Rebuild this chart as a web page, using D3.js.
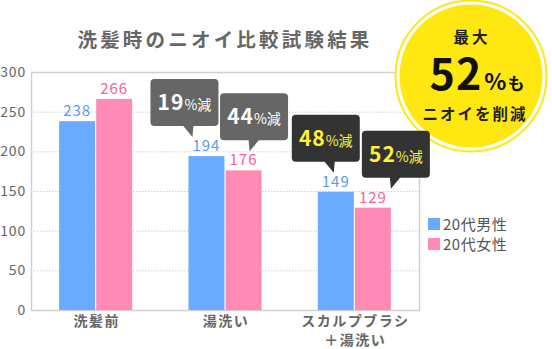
<!DOCTYPE html>
<html><head><meta charset="utf-8">
<script src="https://cdn.jsdelivr.net/npm/d3@7"></script>
<style>
html,body{margin:0;padding:0;background:#fff;}
svg{display:block;font-family:"Noto Sans CJK JP","Noto Sans",sans-serif;}
</style></head>
<body><svg id="c" width="552" height="349"></svg>
<script>
const categories = ["洗髪前", "湯洗い", "スカルプブラシ\n＋湯洗い"];
const seriesNames = ["20代男性", "20代女性"];
const maleValues = [238, 194, 149];
const femaleValues = [266, 176, 129];
const yTicks = [0, 50, 100, 150, 200, 250, 300];
const reductions = [
  {cat: 1, series: 0, num: "19", dark: false},
  {cat: 1, series: 1, num: "44", dark: false},
  {cat: 2, series: 0, num: "48", dark: true},
  {cat: 2, series: 1, num: "52", dark: true}
];
const title = "洗髪時のニオイ比較試験結果";
const colors = ["#6aabff", "#ff8ab5"];
const labelColors = ["#5a9be8", "#f0649a"];

const svg = d3.select("#c");
const L = 31, R = 419, T = 72, B = 310;
const y = d3.scaleLinear().domain([0, 300]).range([B, T]);
const x0 = d3.scaleBand().domain(d3.range(categories.length)).range([L, R]).paddingInner(0.435).paddingOuter(0.2175);
const x1 = d3.scaleBand().domain([0, 1]).range([0, x0.bandwidth()]).paddingInner(0.03);

// title
svg.append("text").attr("x", 225).attr("y", 47).attr("text-anchor", "middle")
  .attr("font-size", 19.5).attr("font-weight", 700).attr("fill", "#666")
  .attr("letter-spacing", "3.2px").text(title);

// gridlines
svg.append("g").selectAll("line").data(yTicks.filter(d => d > 0 && d < 300)).join("line")
  .attr("x1", L).attr("x2", R).attr("y1", d => y(d) + 0.5).attr("y2", d => y(d) + 0.5)
  .attr("stroke", "#cfcfcf").attr("stroke-dasharray", "1.5,1.5");

// frame
svg.append("rect").attr("x", L + 0.5).attr("y", T + 0.5).attr("width", R - L).attr("height", B - T)
  .attr("fill", "none").attr("stroke", "#d0d0d0").attr("stroke-width", 1.5);

// y axis labels
const yAxis = d3.axisLeft(y).tickValues(yTicks).tickSize(0).tickPadding(5);
const ya = svg.append("g").attr("transform", `translate(${L},0)`).call(yAxis);
ya.select(".domain").remove();
ya.selectAll("text").attr("font-size", 14).attr("fill", "#666")
  .attr("font-family", "'Noto Sans CJK JP',sans-serif").attr("letter-spacing", "0.8px");

// bars
const data = [maleValues, femaleValues];
const gBars = svg.append("g");
data.forEach((vals, s) => {
  gBars.selectAll(".b" + s).data(vals).join("rect")
    .attr("x", (d, i) => x0(i) + x1(s)).attr("width", x1.bandwidth())
    .attr("y", d => y(d)).attr("height", d => B - y(d)).attr("fill", colors[s]);
  gBars.selectAll(".t" + s).data(vals).join("text")
    .attr("x", (d, i) => x0(i) + x1(s) + x1.bandwidth() / 2).attr("y", d => y(d) - 5)
    .attr("text-anchor", "middle").attr("font-size", 15).attr("fill", labelColors[s])
    .attr("letter-spacing", "1px").text(d => d);
});

// category labels
categories.forEach((c, i) => {
  const lines = c.split("\n");
  lines.forEach((ln, k) => {
    svg.append("text").attr("text-anchor", "middle").attr("font-size", 14)
      .attr("font-weight", 700).attr("fill", "#666").attr("letter-spacing", "1.5px")
      .attr("x", x0(i) + x0.bandwidth() / 2 + 1).attr("y", 326 + k * 19).text(ln);
  });
});

// legend
seriesNames.forEach((n, s) => {
  svg.append("rect").attr("x", 428).attr("y", 218 + s * 20).attr("width", 12).attr("height", 12).attr("fill", colors[s]);
  svg.append("text").attr("x", 443).attr("y", 229.5 + s * 20).attr("font-size", 15)
    .attr("fill", "#555").attr("letter-spacing", "0.5px").text(n);
});

// badge circle
const cx = 471, cy = 76;
svg.append("circle").attr("cx", cx).attr("cy", cy).attr("r", 75.5).attr("fill", "#fff")
  .attr("stroke", "#ffe712").attr("stroke-width", 2);
svg.append("circle").attr("cx", cx).attr("cy", cy).attr("r", 71.5).attr("fill", "#ffe712");
svg.append("text").attr("x", cx + 1).attr("y", 43).attr("text-anchor", "middle").attr("font-size", 15.5)
  .attr("font-weight", 700).attr("fill", "#222").attr("letter-spacing", "3px").text("最大");
const big = svg.append("text").attr("x", cx + 6).attr("y", 90).attr("text-anchor", "middle").attr("fill", "#111").attr("font-weight", 700);
big.append("tspan").attr("font-size", 43).attr("letter-spacing", "1px").text("52");
big.append("tspan").attr("font-size", 23).attr("dx", 2).text("%");
big.append("tspan").attr("font-size", 17).attr("dx", 1).text("も");
svg.append("text").attr("x", cx + 4).attr("y", 120).attr("text-anchor", "middle").attr("font-size", 15.5)
  .attr("font-weight", 700).attr("fill", "#222").attr("letter-spacing", "2px").text("ニオイを削減");

// callouts
const boxOffsets = [-22, 10.5, -10, 23];
const tipOffsets = [-14, 6, -2, 18];
reductions.forEach((r, k) => {
  const v = data[r.series][r.cat];
  const bc = x0(r.cat) + x1(r.series) + x1.bandwidth() / 2;
  const bottom = y(v) - 30;
  const w = 68, h = 47;
  const bx = bc + boxOffsets[k] - w / 2;
  const tip = bc + tipOffsets[k];
  const fill = r.dark ? "#333" : "#666";
  const g = svg.append("g");
  g.append("rect").attr("x", bx).attr("y", bottom - h).attr("width", w).attr("height", h).attr("rx", 4).attr("fill", fill);
  const tail = (k % 2 === 0)
    ? [[tip - 10, bottom - 1], [tip + 1, bottom - 1], [tip, bottom + 11]]
    : [[tip - 1, bottom - 1], [tip + 10, bottom - 1], [tip, bottom + 11]];
  g.append("path").attr("d", d3.line()(tail) + "Z").attr("fill", fill);
  const t = g.append("text").attr("x", bx + w / 2).attr("y", bottom - h + 31).attr("text-anchor", "middle")
    .attr("fill", r.dark ? "#fff03a" : "#fff").attr("font-weight", 700);
  t.append("tspan").attr("font-size", 21).attr("letter-spacing", "1px").text(r.num);
  t.append("tspan").attr("font-size", 14).attr("font-weight", 400).text("%減");
});
</script></body></html>
